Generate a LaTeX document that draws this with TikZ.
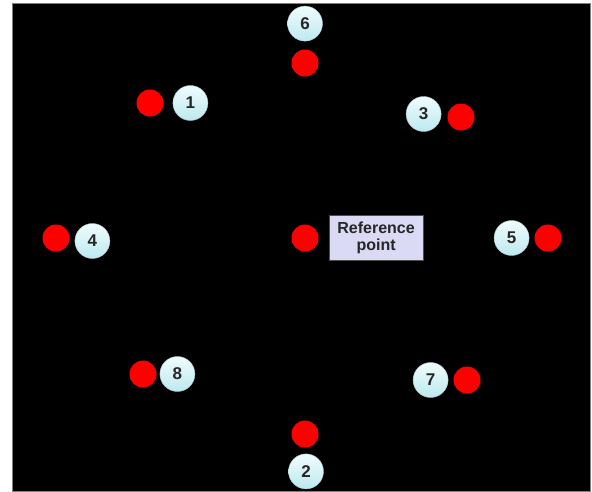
\documentclass[tikz,border=0pt]{standalone}
\usepackage{fontspec}
\setmainfont{Liberation Sans}
\usepackage{tikz}
\usetikzlibrary{positioning}
\definecolor{ballhi}{RGB}{240,252,253}
\definecolor{balllo}{RGB}{188,233,239}
\definecolor{boxfill}{RGB}{218,218,244}
\tikzset{
	reddot/.style={circle, fill=red, minimum size=27pt, inner sep=0pt},
	numball/.style={circle, top color=ballhi, bottom color=balllo, draw=balllo!70!gray, line width=0.4pt, minimum size=35pt, inner sep=0pt, text=black!85, font=\fontsize{17}{17}\selectfont\bfseries},
	refbox/.style={rectangle, fill=boxfill, draw=black!70, line width=0.8pt, minimum width=94pt, minimum height=45pt, inner sep=2pt, align=center, text=black!85, font=\fontsize{16}{17}\selectfont\bfseries}
}

\begin{document}
\begin{tikzpicture}[x=1pt, y=-1pt]
	\useasboundingbox[fill=white] (0,0) rectangle (592,491);
	\draw[fill=black, draw=gray] (12,3) rectangle (590,491);
	
	% red points
	\node[reddot] (dot6) at (305,63) {};
	\node[reddot] (dot1) at (150,103) {};
	\node[reddot] (dot3) at (461,117) {};
	\node[reddot] (dot4) at (56,238) {};
	\node[reddot] (dotref) at (305,238) {};
	\node[reddot] (dot5) at (548,238) {};
	\node[reddot] (dot8) at (143,374) {};
	\node[reddot] (dot7) at (467,380) {};
	\node[reddot] (dot2) at (305,434) {};
	
	% numbers
	\node[numball, above=8pt of dot6] (num6) {6};
	\node[numball, right=9pt of dot1] (num1) {1};
	\node[numball, left=6pt of dot3, yshift=3pt] (num3) {3};
	\node[numball, right=5pt of dot4, yshift=-3pt] (num4) {4};
	\node[numball, left=5pt of dot5] (num5) {5};
	\node[numball, right=3pt of dot8] (num8) {8};
	\node[numball, left=5pt of dot7] (num7) {7};
	\node[numball, below=6pt of dot2, xshift=1pt] (num2) {2};
	
	\node[refbox, right=10pt of dotref] (refpt) {Reference\\point};
\end{tikzpicture}
\end{document}
